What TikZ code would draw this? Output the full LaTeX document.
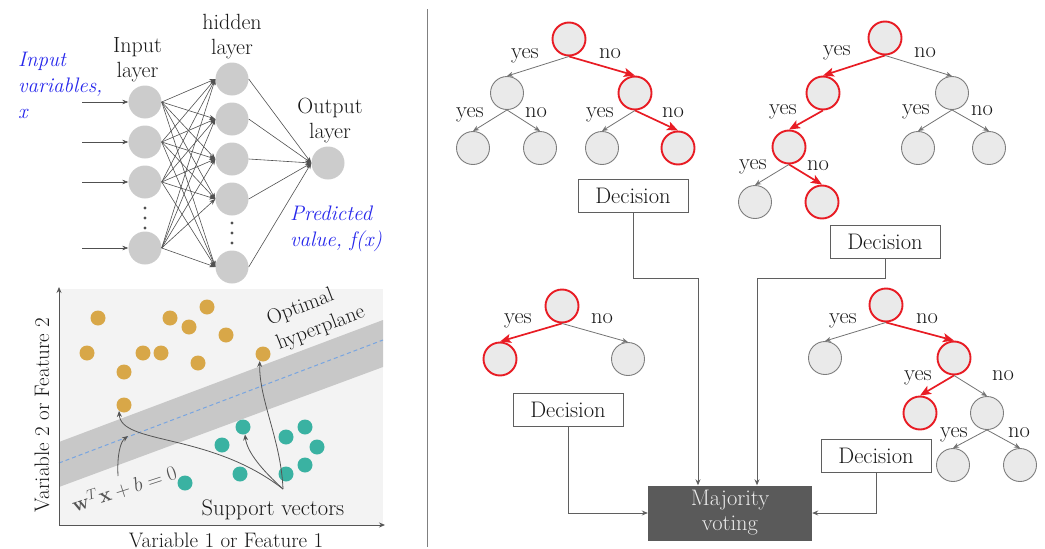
\documentclass[tikz,border=0pt]{standalone}
\usetikzlibrary{arrows.meta}
\definecolor{nngray}{RGB}{204,204,204}
\definecolor{nnedge}{RGB}{80,80,80}
\definecolor{tfill}{RGB}{234,234,234}
\definecolor{tborder}{RGB}{125,125,125}
\definecolor{tred}{RGB}{232,28,36}
\definecolor{tedge}{RGB}{115,115,115}
\definecolor{boxline}{RGB}{95,95,95}
\definecolor{majfill}{RGB}{90,90,90}
\definecolor{majtext}{RGB}{235,235,235}
\definecolor{blu}{RGB}{40,40,235}
\definecolor{svmbg}{RGB}{243,243,243}
\definecolor{band}{RGB}{200,200,200}
\definecolor{dashblue}{RGB}{120,165,225}
\definecolor{gold}{RGB}{216,167,72}
\definecolor{teal2}{RGB}{58,178,162}
\definecolor{txt}{RGB}{25,25,25}
\definecolor{axisc}{RGB}{85,85,85}
\tikzset{
 nnnode/.style={circle, fill=nngray, minimum size=33pt, inner sep=0pt},
 nnarrow/.style={draw=nnedge, line width=0.6pt, -{Stealth[length=6pt,width=4.5pt]}},
 tnode/.style={circle, draw=tborder, fill=tfill, line width=0.9pt, minimum size=33pt, inner sep=0pt},
 rnode/.style={tnode, draw=tred, line width=1.9pt},
 gedge/.style={draw=tedge, line width=0.8pt, -{Stealth[length=6pt,width=5pt]}},
 redge/.style={draw=tred, line width=1.7pt, -{Stealth[length=11pt,width=9pt,inset=2.5pt]}},
 lbl/.style={inner sep=0pt, anchor=base, text=txt, font=\fontsize{22.5}{26}\selectfont},
 decbox/.style={draw=boxline, fill=white, line width=0.8pt, minimum width=110pt, minimum height=33pt, inner sep=0pt, text=txt, font=\fontsize{22.5}{26}\selectfont},
 conn/.style={draw=boxline, line width=0.8pt, -{Stealth[length=6pt,width=5pt]}},
 dotp/.style={circle, minimum size=15pt, inner sep=0pt},
 gpt/.style={dotp, fill=gold},
 tpt/.style={dotp, fill=teal2},
 sva/.style={draw=axisc, line width=0.8pt, -{Stealth[length=6pt,width=5pt]}},
 bluetxt/.style={text=blu, font=\fontsize{21}{26}\selectfont\itshape, align=left, inner sep=0pt, anchor=north west},
 nntxt/.style={text=txt, font=\fontsize{22}{25}\selectfont, align=center, inner sep=0pt},
 svtxt/.style={text=txt, font=\fontsize{21}{26.5}\selectfont, inner sep=0pt},
}
\begin{document}
\begin{tikzpicture}[x=1pt,y=-1pt]
\useasboundingbox (0,0) rectangle (1045,549);
% ---------------- Neural network ----------------
\foreach \n/\y in {1/102,2/142,3/182,4/248}{
  \node[nnnode] (i\n) at (145,\y) {};
  \coordinate (s\n) at (82,\y);
  \draw[nnarrow] (s\n) -- (i\n.west);
}
\foreach \n/\y in {1/79,2/119,3/159,4/199,5/267}{
  \node[nnnode] (h\n) at (232,\y) {};
}
\node[nnnode] (o) at (328,163) {};
\foreach \a in {1,...,4}{
  \foreach \b in {1,...,5}{
    \draw[nnarrow] (i\a.east) -- (h\b.west);
  }
}
\foreach \b in {1,...,5}{
  \draw[nnarrow] (h\b.east) -- (o.west);
}
\foreach \y in {208,218,228} \fill[nnedge] (145,\y) circle (1.6pt);
\foreach \y in {223,233,243} \fill[nnedge] (232,\y) circle (1.6pt);
\node[nntxt] (tin) at (137.5,60) {Input\\layer};
\node[nntxt] (thid) at (232,37) {hidden\\layer};
\node[nntxt] (tout) at (330,121) {Output\\layer};
\node[bluetxt] (tvar) at (18,52) {Input\\variables,\\x};
\node[bluetxt] (tpred) at (290,206) {Predicted\\value, f(x)};
% ---------------- SVM ----------------
\fill[svmbg] (59,289) rectangle (383,525);
\fill[band] (59,442) -- (383,320) -- (383,367) -- (59,487) -- cycle;
\draw[dashblue, line width=1pt, dash pattern=on 4pt off 3pt] (59,463) -- (383,340);
\coordinate (ax0) at (59,525);
\coordinate (axy) at (59,287);
\coordinate (axx) at (385,525);
\draw[sva] (ax0) -- (axy);
\draw[sva] (ax0) -- (axx);
\foreach \n/\x/\y in {1/98/318,2/170/318,3/207/307,4/189/327,5/226/335,6/87/353,7/143/353,8/161/353,9/198/363,10/263/354,11/124/372,12/124/405}{
  \node[gpt] (g\n) at (\x,\y) {};
}
\foreach \n/\x/\y in {1/243/427,2/305/427,3/222/445,4/286/437,5/317/447,6/305/465,7/240/474,8/286/474,9/185/483}{
  \node[tpt] (t\n) at (\x,\y) {};
}
\node[svtxt, anchor=base, font=\fontsize{22.5}{26}\selectfont] (sv) at (273,515) {Support vectors};
\coordinate (src) at (283,489);
\draw[sva] (src) .. controls (210,432) and (121,445) .. (g12.-130);
\draw[sva] (src) .. controls (262,470) and (247,452) .. (t1.-75);
\draw[sva] (src) .. controls (281,440) and (259,400) .. (g10.-115);
\coordinate (eqs) at (118,476);
\coordinate (eqt) at (128,436);
\draw[sva] (eqs) .. controls (117,456) and (120,442) .. (eqt);
\node[svtxt, text=axisc, rotate=18] (eq) at (124,488) {$\mathbf{w}^T\mathbf{x}+b=0$};
\node[svtxt, rotate=21, align=left] (opt) at (316,316) {Optimal\\hyperplane};
\node[svtxt, anchor=base] (xl) at (226,547) {Variable 1 or Feature 1};
\node[svtxt, rotate=90] (yl) at (42,415) {Variable 2 or Feature 2};
% ---------------- divider ----------------
\coordinate (dv1) at (427,9);
\coordinate (dv2) at (427,547);
\draw[draw=gray, line width=0.9pt] (dv1) -- (dv2);
% ---------------- Tree 1 ----------------
\node[rnode] (a0) at (569,39) {};
\node[tnode] (a1) at (507,93) {};
\node[rnode] (a2) at (635,93) {};
\node[tnode] (a3) at (473,148) {};
\node[tnode] (a4) at (540,148) {};
\node[tnode] (a5) at (602,148) {};
\node[rnode] (a6) at (678,148) {};
\draw[gedge] (a0.south) -- (a1.north);
\draw[redge] (a0.south) -- (a2.north);
\draw[gedge] (a1.south) -- (a3.north);
\draw[gedge] (a1.south) -- (a4.north);
\draw[gedge] (a2.south) -- (a5.north);
\draw[redge] (a2.south) -- (a6.north);
\node[lbl] (la1) at (525,58) {yes};
\node[lbl] (la2) at (610,58) {no};
\node[lbl] (la3) at (470,117) {yes};
\node[lbl] (la4) at (536,117) {no};
\node[lbl] (la5) at (600,117) {yes};
\node[lbl] (la6) at (673,117) {no};
% ---------------- Tree 2 ----------------
\node[rnode] (b0) at (885,38) {};
\node[rnode] (b1) at (823,93) {};
\node[tnode] (b2) at (952,93) {};
\node[rnode] (b3) at (789,147) {};
\node[tnode] (b4) at (918,148) {};
\node[tnode] (b5) at (989,148) {};
\node[tnode] (b6) at (755,202) {};
\node[rnode] (b7) at (822,202) {};
\draw[redge] (b0.south) -- (b1.north);
\draw[gedge] (b0.south) -- (b2.north);
\draw[redge] (b1.south) -- (b3.north);
\draw[gedge] (b2.south) -- (b4.north);
\draw[gedge] (b2.south) -- (b5.north);
\draw[gedge] (b3.south) -- (b6.north);
\draw[redge] (b3.south) -- (b7.north);
\node[lbl] (lb1) at (837,55) {yes};
\node[lbl] (lb2) at (925,57) {no};
\node[lbl] (lb3) at (783,114) {yes};
\node[lbl] (lb4) at (916,114) {yes};
\node[lbl] (lb5) at (982,115) {no};
\node[lbl] (lb6) at (753,169) {yes};
\node[lbl] (lb7) at (818,170) {no};
% ---------------- Tree 3 ----------------
\node[rnode] (c0) at (562,306) {};
\node[rnode] (c1) at (500,359) {};
\node[tnode] (c2) at (628,359) {};
\draw[redge] (c0.south) -- (c1.north);
\draw[gedge] (c0.south) -- (c2.north);
\node[lbl] (lc1) at (518,323) {yes};
\node[lbl] (lc2) at (602,323) {no};
% ---------------- Tree 4 ----------------
\node[rnode] (d0) at (886,305) {};
\node[tnode] (d1) at (825,358) {};
\node[rnode] (d2) at (954,358) {};
\node[rnode] (d3) at (920,413) {};
\node[tnode] (d4) at (987,413) {};
\node[tnode] (d5) at (953,465) {};
\node[tnode] (d6) at (1020,465) {};
\draw[gedge] (d0.south) -- (d1.north);
\draw[redge] (d0.south) -- (d2.north);
\draw[redge] (d2.south) -- (d3.north);
\draw[gedge] (d2.south) -- (d4.north);
\draw[gedge] (d4.south) -- (d5.north);
\draw[gedge] (d4.south) -- (d6.north);
\node[lbl] (ld1) at (843,323) {yes};
\node[lbl] (ld2) at (927,323) {no};
\node[lbl] (ld3) at (918,380) {yes};
\node[lbl] (ld4) at (1003,380) {no};
\node[lbl] (ld5) at (954,437) {yes};
\node[lbl] (ld6) at (1019,437) {no};
% ---------------- Decisions and voting ----------------
\node[decbox] (D1) at (633,196) {Decision};
\node[decbox] (D2) at (885,242) {Decision};
\node[decbox] (D3) at (568,410) {Decision};
\node[decbox] (D4) at (876,456) {Decision};
\node[rectangle, fill=majfill, minimum width=164pt, minimum height=55pt, inner sep=0pt, text=majtext, align=center, font=\fontsize{22.5}{25}\selectfont] (M) at (730,513) {Majority\\voting};
\coordinate (k1) at (698,278);
\coordinate (k2) at (757,278);
\draw[conn] (D1.south) -- (D1.south |- k1) -- (k1) -- (k1 |- M.north);
\draw[conn] (D2.south) -- (D2.south |- k2) -- (k2) -- (k2 |- M.north);
\draw[conn] (D3.south) |- (M.west);
\draw[conn] (D4.south) |- (M.east);
\end{tikzpicture}
\end{document}
